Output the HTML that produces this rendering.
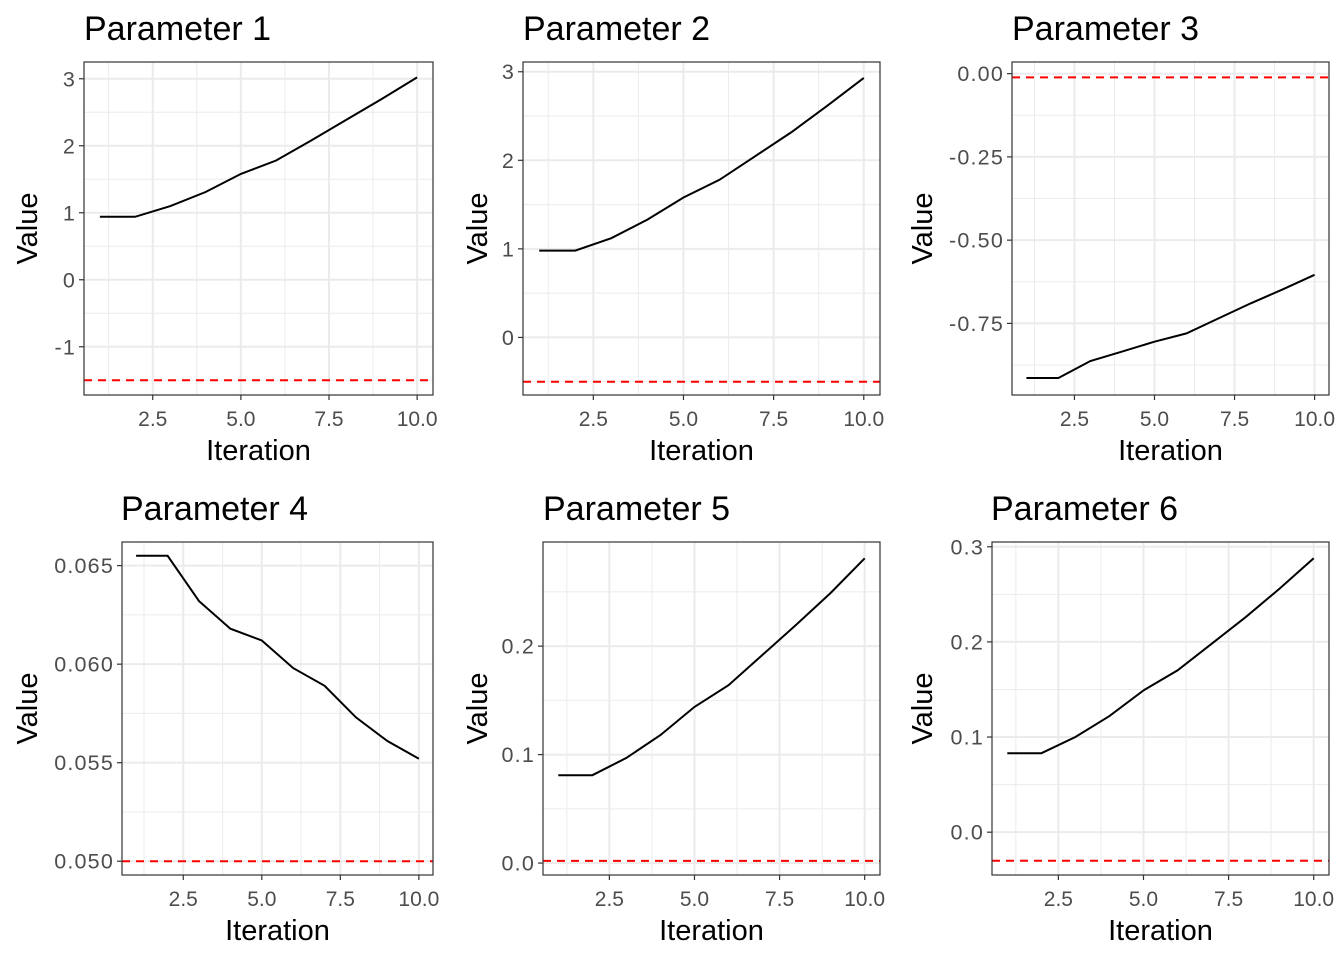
<!DOCTYPE html>
<html><head><meta charset="utf-8"><style>
html,body{margin:0;padding:0;background:#fff;}
svg{display:block;font-family:"Liberation Sans",Arial,sans-serif;}
</style></head><body>
<svg id="chart" width="1344" height="960" viewBox="0 0 1344 960" xmlns="http://www.w3.org/2000/svg"></svg>
<script>
const iterations = [1,2,3,4,5,6,7,8,9,10];
const xTicks = [2.5,5.0,7.5,10.0];
const xTickLabels = ["2.5","5.0","7.5","10.0"];
const p1Values = [0.94,0.94,1.10,1.31,1.58,1.78,2.08,2.39,2.70,3.02];
const p2Values = [0.98,0.98,1.12,1.33,1.58,1.78,2.05,2.32,2.62,2.93];
const p3Values = [-0.914,-0.914,-0.863,-0.834,-0.805,-0.780,-0.735,-0.690,-0.648,-0.604];
const p4Values = [0.0655,0.0655,0.0632,0.0618,0.0612,0.0598,0.0589,0.0573,0.0561,0.0552];
const p5Values = [0.081,0.081,0.097,0.118,0.144,0.164,0.192,0.220,0.249,0.281];
const p6Values = [0.083,0.083,0.100,0.122,0.149,0.170,0.198,0.226,0.256,0.288];
const refValues = [-1.5,-0.5,-0.011,0.050,0.002,-0.030];
const titles = ["Parameter 1","Parameter 2","Parameter 3","Parameter 4","Parameter 5","Parameter 6"];
const yTicks = [[-1,0,1,2,3],[0,1,2,3],[-0.75,-0.5,-0.25,0],[0.05,0.055,0.06,0.065],[0,0.1,0.2],[0,0.1,0.2,0.3]];
const yTickLabels = [["-1","0","1","2","3"],["0","1","2","3"],["-0.75","-0.50","-0.25","0.00"],["0.050","0.055","0.060","0.065"],["0.0","0.1","0.2"],["0.0","0.1","0.2","0.3"]];
const yDomains = [[-1.72,3.25],[-0.65,3.11],[-0.965,0.035],[0.0493,0.0662],[-0.011,0.296],[-0.045,0.305]];
const seriesAll = [p1Values,p2Values,p3Values,p4Values,p5Values,p6Values];

const NS = "http://www.w3.org/2000/svg";
const svg = document.getElementById("chart");
const boxes = [
  {l:84,r:433,t:62,b:395,tx:84,ty:40,gx:0,row:0},
  {l:523,r:880,t:62,b:395,tx:523,ty:40,gx:450,row:0},
  {l:1012,r:1329,t:62,b:395,tx:1012,ty:40,gx:895,row:0},
  {l:122,r:433,t:542,b:875,tx:121,ty:520,gx:0,row:1},
  {l:543,r:880,t:542,b:875,tx:543,ty:520,gx:450,row:1},
  {l:992,r:1329,t:542,b:875,tx:991,ty:520,gx:895,row:1}
];
function mk(tag, attrs, parent){
  const e=document.createElementNS(NS,tag);
  for(const k in attrs) e.setAttribute(k,attrs[k]);
  (parent||svg).appendChild(e); return e;
}
boxes.forEach((B,i)=>{
  const g=mk("g",{});
  
  
  const xMin=0.55, xMax=10.45;
  const xs=v=>B.l+(v-xMin)/(xMax-xMin)*(B.r-B.l);
  const [d0,d1]=yDomains[i];
  const ys=v=>B.b-(v-d0)/(d1-d0)*(B.b-B.t);
  const yt=yTicks[i], step=yt[1]-yt[0];
  const minorY=[];
  for(let v=yt[0]-step/2; v<=d1; v+=step) if(v>=d0) minorY.push(v);
  minorY.forEach(v=>mk("line",{x1:B.l,x2:B.r,y1:ys(v),y2:ys(v),stroke:"#ebebeb","stroke-width":1},g));
  [1.25,3.75,6.25,8.75].forEach(v=>mk("line",{x1:xs(v),x2:xs(v),y1:B.t,y2:B.b,stroke:"#ebebeb","stroke-width":1},g));
  yt.forEach(v=>mk("line",{x1:B.l,x2:B.r,y1:ys(v),y2:ys(v),stroke:"#ebebeb","stroke-width":2},g));
  xTicks.forEach(v=>mk("line",{x1:xs(v),x2:xs(v),y1:B.t,y2:B.b,stroke:"#ebebeb","stroke-width":2},g));
  const ref=mk("line",{x1:B.l,x2:B.r,y1:ys(refValues[i]),y2:ys(refValues[i]),stroke:"#ff0000","stroke-width":2,"stroke-dasharray":"8,6"},g);
  
  
  const pts=iterations.map((x,k)=>xs(x).toFixed(1)+","+ys(seriesAll[i][k]).toFixed(1)).join(" ");
  const pl=mk("polyline",{points:pts,fill:"none",stroke:"#000","stroke-width":2},g);
  
  
  mk("rect",{x:B.l,y:B.t,width:B.r-B.l,height:B.b-B.t,fill:"none",stroke:"#333","stroke-width":1.2},g);
  yt.forEach((v,k)=>{
    mk("line",{x1:B.l-5,x2:B.l,y1:ys(v),y2:ys(v),stroke:"#333","stroke-width":1.2},g);
    const t=mk("text",{x:B.l-8,y:ys(v)+7.5,"text-anchor":"end","font-size":21.5,"letter-spacing":"1.2",fill:"#4d4d4d"},g);
    t.textContent=yTickLabels[i][k];
    
    
  });
  xTicks.forEach((v,k)=>{
    mk("line",{x1:xs(v),x2:xs(v),y1:B.b,y2:B.b+5,stroke:"#333","stroke-width":1.2},g);
    const t=mk("text",{x:xs(v),y:B.b+31,"text-anchor":"middle","font-size":21,fill:"#4d4d4d"},g);
    t.textContent=xTickLabels[k];
    
    
  });
  const title=mk("text",{x:B.tx,y:B.ty,"font-size":34,fill:"#000"},g);
  title.textContent=titles[i];
  
  
  const xl=mk("text",{x:(B.l+B.r)/2,y:B.b+65,"text-anchor":"middle","font-size":29,fill:"#000"},g);
  xl.textContent="Iteration";
  
  
  const cy=(B.t+B.b)/2, cx=B.gx+37;
  const yl=mk("text",{x:cx,y:cy,"text-anchor":"middle","font-size":29,fill:"#000",transform:`rotate(-90 ${cx} ${cy})`},g);
  yl.textContent="Value";
  
  
});
</script>
</body></html>
